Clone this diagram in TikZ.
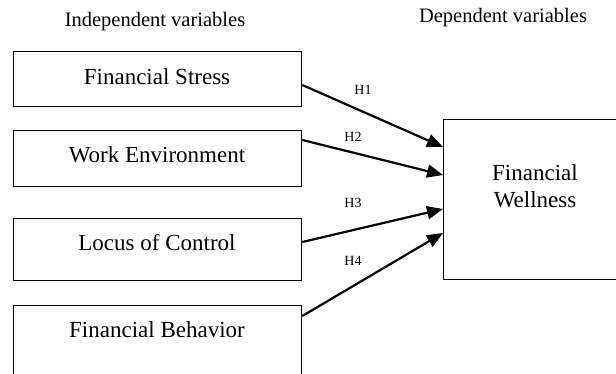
\documentclass[tikz,border=0pt]{standalone}
\usepackage{fontspec}
\setmainfont{Liberation Serif}
\usetikzlibrary{arrows.meta}
\begin{document}
\begin{tikzpicture}[x=1pt,y=-1pt,
  box/.style={draw,line width=1.3pt,anchor=north west,inner sep=0pt},
  boxtext/.style={font=\fontsize{23}{27}\selectfont,inner sep=0pt},
  title/.style={font=\fontsize{20.5}{24}\selectfont,inner sep=0pt},
  hyp/.style={font=\fontsize{14}{16}\selectfont,inner sep=0pt},
  conn/.style={line width=2.2pt,-{Triangle[length=16pt,width=13pt]}}]
\useasboundingbox (0,0) rectangle (616,374);
\node[title] (ti) at (155,22) {Independent variables};
\node[title] (td) at (503,18) {Dependent variables};
\node[box,minimum width=288pt,minimum height=55pt] (fs) at (13,51) {};
\node[box,minimum width=288pt,minimum height=56pt] (we) at (13,130) {};
\node[box,minimum width=288pt,minimum height=62pt] (lc) at (13,218) {};
\node[box,minimum width=288pt,minimum height=75pt] (fb) at (13,305) {};
\node[box,minimum width=184pt,minimum height=160pt] (fw) at (443,119) {};
\node[boxtext] (tfs) at (157,77) {Financial Stress};
\node[boxtext] (twe) at (157,155) {Work Environment};
\node[boxtext] (tlc) at (157,243) {Locus of Control};
\node[boxtext] (tfb) at (157,330) {Financial Behavior};
\node[boxtext,align=center] (tfw) at (535,186) {Financial\\Wellness};
\draw[conn] ([yshift=-34pt]fs.north east) -- ([yshift=-28pt]fw.north west);
\draw[conn] ([yshift=-10pt]we.north east) -- ([yshift=-56pt]fw.north west);
\draw[conn] ([yshift=-24pt]lc.north east) -- ([yshift=-90pt]fw.north west);
\draw[conn] ([yshift=-11pt]fb.north east) -- ([yshift=-114pt]fw.north west);
\node[hyp] (h1) at (363,90) {H1};
\node[hyp] (h2) at (353,137) {H2};
\node[hyp] (h3) at (353,203) {H3};
\node[hyp] (h4) at (353,261) {H4};
\end{tikzpicture}
\end{document}
